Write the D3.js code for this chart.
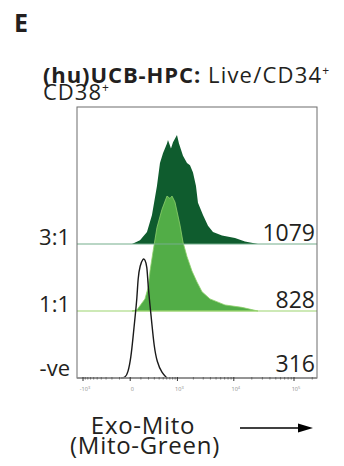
<!DOCTYPE html>
<html>
<head>
<meta charset="utf-8">
<script src="https://cdn.jsdelivr.net/npm/d3@7"></script>
<style>
  body { margin: 0; background: #fff; }
  text { font-family: "Open Sans", sans-serif; fill: #231f20; }
</style>
</head>
<body>
<svg id="chart" width="344" height="466"></svg>
<script>
// lanes from bottom to top
const laneLabels = ["-ve", "1:1", "3:1"];
const laneCounts = ["316", "828", "1079"];

// histograms: [fluorescence, % of max]
const negHist = [[-84,0],[-44,0],[-18,4],[6,17],[22,33],[40,50],[59,66],[69,83],[90,93],[125,99],
  [150,98],[178,93],[193,77],[224,60],[257,44],[293,27],[352,13],[468,4],[608,0]];
const oneToOne = [[14,0],[59,1],[150,10],[193,19],[224,33],[275,49],[352,69],[468,84],[608,95],
  [705,93],[777,95],[894,90],[1123,71],[1282,57],[1526,45],[1887,33],[2321,24],[2848,16],
  [3930,10],[7098,5],[13700,3],[25320,0]];
const threeToOne = [[14,0],[90,3],[178,10],[257,24],[352,48],[419,67],[494,75],[608,83],[639,86],
  [740,79],[815,84],[980,90],[1073,83],[1282,73],[1526,67],[1734,65],[1967,59],[2227,48],
  [2418,34],[2967,24],[3630,15],[4430,10],[6312,7],[10470,5],[15380,2],[25320,0]];

const tickValues = [-1000, 0, 1000, 10000, 100000];
const tickBase = ["-10", "0", "10", "10", "10"];
const tickExp = ["3", "", "3", "4", "5"];

const svg = d3.select("#chart");
const box = {left: 77, right: 317, top: 107, bottom: 378};

const x = d3.scaleSymlog().constant(200).domain([-1000, 100000]).range([83, 294]);
const lane = d3.scaleLinear().domain([0, 2]).range([378, 244]);
const h = d3.scaleLinear().domain([0, 100]).range([0, 121]);

// panel letter
svg.append("text").attr("x", 14).attr("y", 32)
  .style("font-size", "25px").style("font-weight", "bold").text("E");

// title
const t1 = svg.append("text").attr("x", 43).attr("y", 83).style("font-size", "22px");
t1.append("tspan").style("font-weight", "bold").attr("letter-spacing", "0.9").text("(hu)UCB-HPC:");
t1.append("tspan").attr("letter-spacing", "1.2").text(" Live/CD34");
t1.append("tspan").attr("dy", -8).style("font-size", "12px").style("fill", "#231f20").text("+");
const t2 = svg.append("text").attr("x", 43).attr("y", 100).style("font-size", "22px");
t2.append("tspan").attr("letter-spacing", "1").text("CD38");
t2.append("tspan").attr("dy", -8).style("font-size", "12px").style("fill", "#231f20").text("+");

const area = base => d3.area()
  .x(d => x(d[0]))
  .y0(base)
  .y1(d => base - h(d[1]));

// 3:1 (dark green)
svg.append("path").datum(threeToOne)
  .attr("d", area(lane(2)))
  .attr("fill", "#0f5c2e");

// 1:1 (light green), drawn over the dark one
svg.append("path").datum(oneToOne)
  .attr("d", area(lane(1)))
  .attr("fill", "#52ad47")
  .attr("stroke", "#8fd06c").attr("stroke-width", 0.8);

// lane baselines
svg.append("line").attr("x1", box.left).attr("x2", box.right)
  .attr("y1", lane(2)).attr("y2", lane(2))
  .attr("stroke", "#74ae8c").attr("stroke-width", 1.2);
svg.append("line").attr("x1", box.left).attr("x2", box.right)
  .attr("y1", lane(1)).attr("y2", lane(1))
  .attr("stroke", "#9bd46f").attr("stroke-width", 1.2);

// negative control outline
svg.append("path").datum(negHist)
  .attr("d", d3.line().x(d => x(d[0])).y(d => lane(0) - h(d[1])).curve(d3.curveBasis))
  .attr("fill", "none").attr("stroke", "#1a1a1a").attr("stroke-width", 1.4);

// plot box
svg.append("rect")
  .attr("x", box.left).attr("y", box.top)
  .attr("width", box.right - box.left).attr("height", box.bottom - box.top)
  .attr("fill", "none").attr("stroke", "#6d6d6d").attr("stroke-width", 1);

// x axis line + ticks
svg.append("line").attr("x1", box.left).attr("x2", box.right)
  .attr("y1", box.bottom).attr("y2", box.bottom)
  .attr("stroke", "#8a8a8a").attr("stroke-width", 1.6);

let minor = d3.range(-900, 0, 100).concat(d3.range(100, 1000, 100));
[1000, 10000, 100000].forEach(dec => {
  minor = minor.concat(d3.range(2, 10).map(k => k * dec));
});
minor = minor.filter(v => x(v) < box.right);
svg.append("g").selectAll("line").data(minor).enter().append("line")
  .attr("x1", d => x(d)).attr("x2", d => x(d))
  .attr("y1", box.bottom - 1).attr("y2", box.bottom + 1.5)
  .attr("stroke", "#555").attr("stroke-width", 0.8);

svg.append("g").selectAll("line").data(tickValues).enter().append("line")
  .attr("x1", d => x(d)).attr("x2", d => x(d))
  .attr("y1", box.bottom - 1).attr("y2", box.bottom + 3)
  .attr("stroke", "#333").attr("stroke-width", 1);

const tl = svg.append("g").selectAll("text").data(tickValues).enter().append("text")
  .attr("x", d => x(d) + 2).attr("y", 391)
  .attr("text-anchor", "middle")
  .style("font-size", "5.5px").style("fill", "#8a8a8a");
tl.append("tspan").text((d, i) => tickBase[i]);
tl.append("tspan").attr("dy", -2.5).style("font-size", "4px").style("fill", "#8a8a8a").text((d, i) => tickExp[i]);

// lane labels and counts
svg.append("g").selectAll("text").data(laneLabels).enter().append("text")
  .attr("x", 70).attr("y", (d, i) => lane(i) + 1 - (i === 0 ? 3 : 0))
  .attr("text-anchor", "end").style("font-size", "22px")
  .text(d => d);

svg.append("g").selectAll("text").data(laneCounts).enter().append("text")
  .attr("x", 315).attr("y", (d, i) => lane(i) - (i === 0 ? 6 : 3))
  .attr("text-anchor", "end").style("font-size", "23px")
  .text(d => d);

// x title
svg.append("text").attr("x", 143).attr("y", 434).attr("text-anchor", "middle")
  .style("font-size", "24px").attr("letter-spacing", "0.7").text("Exo-Mito");
svg.append("text").attr("x", 145).attr("y", 454).attr("text-anchor", "middle")
  .style("font-size", "24px").attr("letter-spacing", "0.7").text("(Mito-Green)");

// arrow
svg.append("line").attr("x1", 240).attr("x2", 300).attr("y1", 428).attr("y2", 428)
  .attr("stroke", "#000").attr("stroke-width", 1.6);
svg.append("path").attr("d", "M298,423.5L313,428L298,432.5Z").attr("fill", "#000");
</script>
</body>
</html>
